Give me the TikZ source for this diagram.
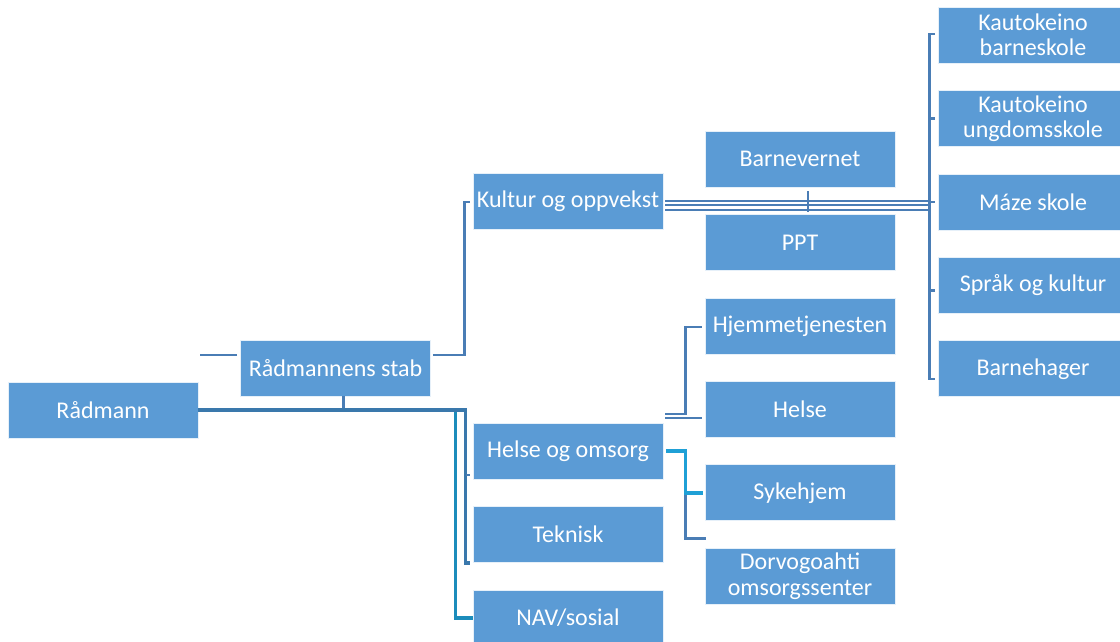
\documentclass[tikz,border=0pt]{standalone}
\usepackage{fontspec}
\setmainfont{Carlito}
\usetikzlibrary{positioning,calc}
\definecolor{boxblue}{HTML}{5B9BD5}
\definecolor{linkblue}{HTML}{4A7DB5}
\definecolor{trunkblue}{HTML}{3A78AC}
\definecolor{tealdark}{HTML}{1C8CBB}
\definecolor{tealbright}{HTML}{1FA0D6}

\begin{document}
\begin{tikzpicture}[x=0.75pt, y=-0.75pt, node distance=20pt,
	unit/.style={draw=white!85!boxblue, line width=.6pt, fill=boxblue, text=white,
		minimum width=142.5pt, minimum height=42pt, inner sep=1pt, align=center,
		font=\fontsize{18}{19}\selectfont},
	link/.style={draw=linkblue, line width=1.8pt},
	trunk/.style={draw=trunkblue, line width=2.6pt},
	tealline/.style={draw=tealdark, line width=2.8pt},
	tealhi/.style={draw=tealbright, line width=2.8pt}]
		\useasboundingbox (0,0) rectangle (1120,642);
		% first two levels
		\node [unit] at (103,410) (raad) {Rådmann};
		\node [unit] at (335.5,368) (stab) {Rådmannens stab};
		% second column
		\node [unit] at (568,201) (kultur) {Kultur og oppvekst};
		\node [unit] at (568,451) (helseoms) {Helse og omsorg};
		\node [unit, below=of helseoms] (teknisk) {Teknisk};
		\node [unit, below=of teknisk] (nav) {NAV/sosial};
		% third column
		\node [unit] at (800,159) (barnevern) {Barnevernet};
		\node [unit, below=of barnevern] (ppt) {PPT};
		\node [unit, below=of ppt] (hjemme) {Hjemmetjenesten};
		\node [unit, below=of hjemme] (helse) {Helse};
		\node [unit, below=of helse] (sykehjem) {Sykehjem};
		\node [unit, below=of sykehjem] (dorvo) {Dorvogoahti\\omsorgssenter};
		% schools
		\node [unit] at (1033,35) (kbarne) {Kautokeino\\barneskole};
		\node [unit, below=of kbarne] (kungdom) {Kautokeino\\ungdomsskole};
		\node [unit, below=of kungdom] (maze) {Máze skole};
		\node [unit, below=of maze] (sprak) {Språk og kultur};
		\node [unit, below=of sprak] (barnehage) {Barnehager};

		% stab
		\draw[link] ($(stab.west)+(-3,-13)$) -- ++(-37,0);
		\draw[link] ($(stab.east)+(2,-13)$) -| ($(kultur.west)+(-8,1)$) -- ++(5,0);
		\draw[link] ($(stab.south)+(8,0)$) -- ++(0,13);
		% from Raadmann
		\draw[tealline] (raad.east) -- ++(257,0) |- (nav.west);
		\draw[trunk] (raad.east) -| ($(helseoms.west)+(-7,112)$) -- ++(4,0);
		\draw[link] ($(helseoms.west)+(-7,24)$) -- ++(4,0);
		% kultur og oppvekst
		\foreach \dy in {0,4,9}
			\draw[link] ($(kultur.east)+(2,\dy)$) -- ($(kbarne.west |- kultur.east)+(-8,\dy)$);
		\draw[link] ($(barnevern.south)+(8,4)$) -- ++(0,21);
		\draw[link] ($(kbarne.west)+(-3,-1)$) -| ($(barnehage.west)+(-8,10)$) -- ++(5,0);
		\draw[link] ($(kungdom.west)+(-8,0)$) -- ++(5,0);
		\draw[link] ($(maze.west)+(-8,0)$) -- ++(5,0);
		\draw[link] ($(sprak.west)+(-8,5)$) -- ++(5,0);
		% helse og omsorg
		\draw[link] ($(helseoms.east)+(2,-37)$) -| ($(hjemme.west)+(-19,1)$) -- ++(16,0);
		\draw[link] ($(helseoms.east)+(2,-33)$) -- ++(37,0);
		\draw[link] ($(sykehjem.west)+(-19,0)$) |- ($(dorvo.west)+(1,-38)$);
		\draw[tealhi] ($(helseoms.east)+(3,0)$) -| ($(sykehjem.west)+(-19,0)$) -- ($(sykehjem.west)+(-2,0)$);
	\end{tikzpicture}
\end{document}
